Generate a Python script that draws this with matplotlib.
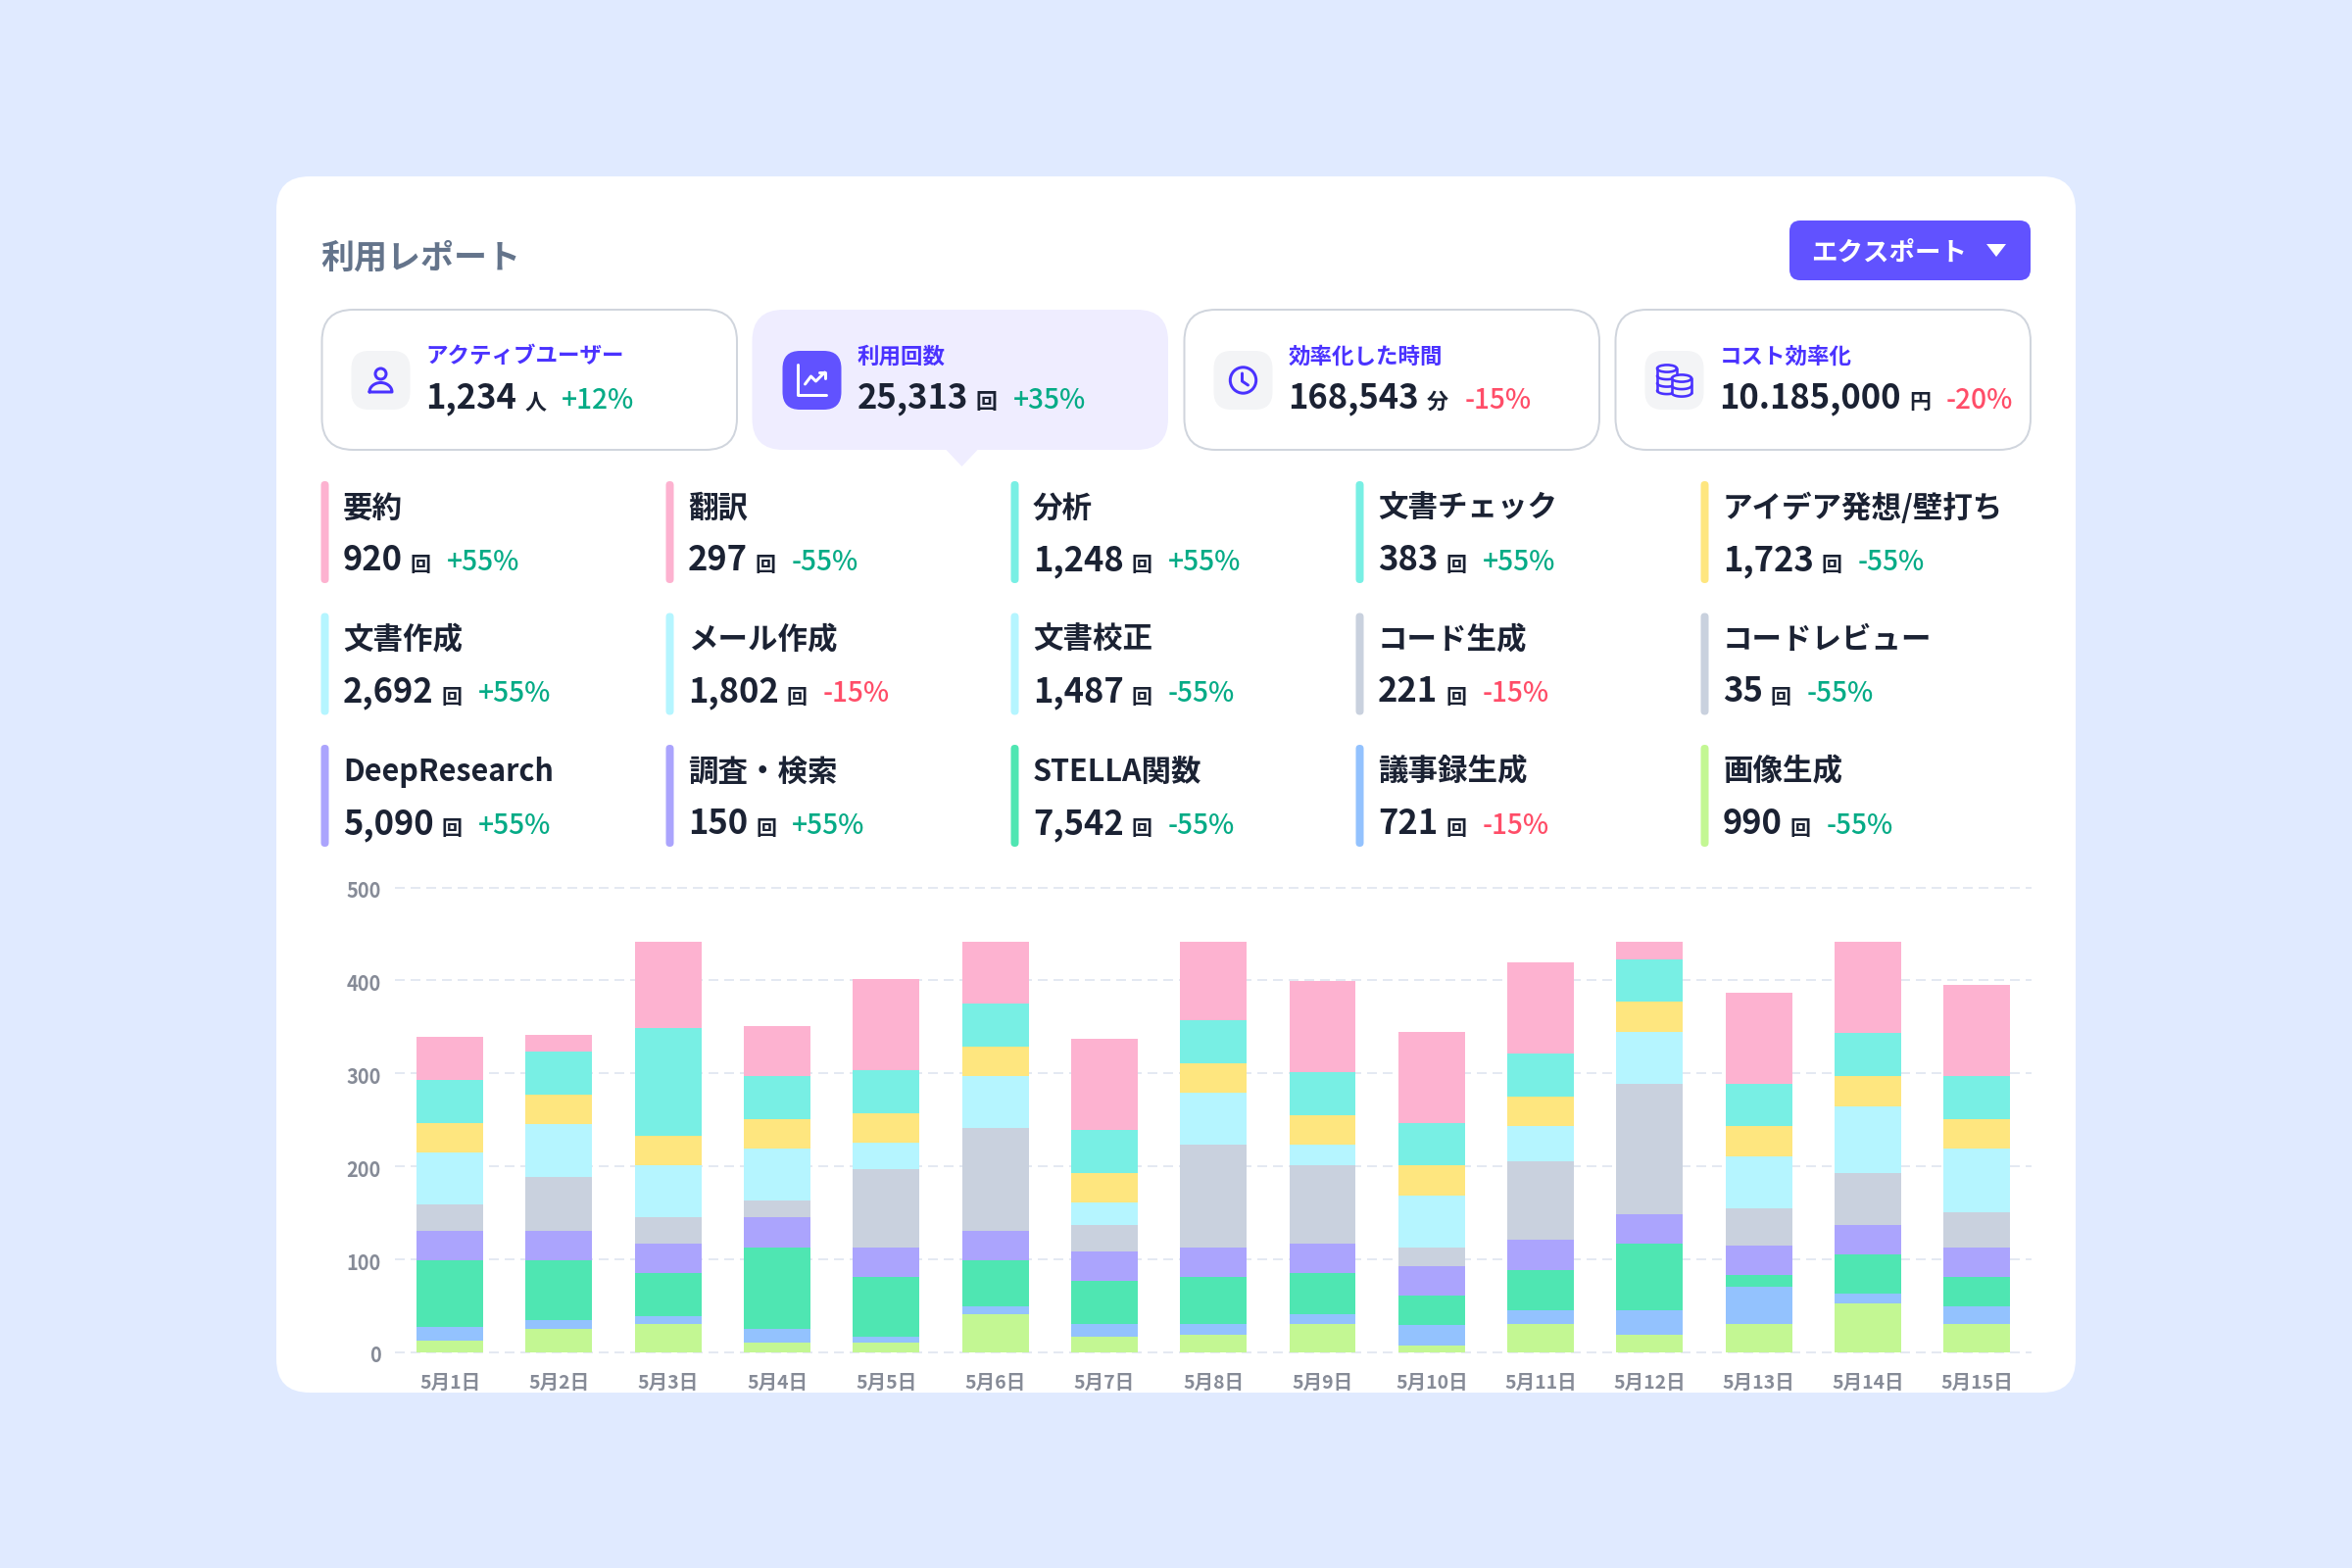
import matplotlib
matplotlib.use('Agg')
import matplotlib.pyplot as plt
import matplotlib.transforms as mtrans
import numpy as np
from matplotlib.patches import FancyBboxPatch, Polygon, Circle, Ellipse

plt.rcParams['font.family'] = ['Noto Sans CJK JP', 'DejaVu Sans']

# chart data, bottom segment first
days = ['5月%d日' % d for d in range(1, 16)]
image_gen = [13, 25, 31, 11, 11, 41, 17, 19, 31, 7, 31, 19, 31, 53, 31]
minutes = [14, 10, 8, 14, 6, 8, 14, 12, 10, 22, 14, 26, 40, 10, 18]
stella = [72, 64, 46, 88, 64, 50, 46, 50, 44, 32, 44, 72, 12, 42, 32]
research = [32, 32, 32, 32, 32, 32, 32, 32, 32, 32, 32, 32, 32, 32, 32]
code = [28, 58, 28, 18, 84, 110, 28, 110, 84, 20, 84, 140, 40, 56, 38]
docs = [56, 56, 56, 56, 28, 56, 24, 56, 22, 56, 38, 56, 56, 72, 68]
ideas = [32, 32, 32, 32, 32, 32, 32, 32, 32, 32, 32, 32, 32, 32, 32]
analysis = [46, 46, 116, 46, 46, 46, 46, 46, 46, 46, 46, 46, 46, 46, 46]
summary = [46, 18, 93, 54, 98, 67, 98, 85, 98, 98, 98, 19, 98, 98, 98]
y_ticks = [0, 100, 200, 300, 400, 500]

PINK = '#fdb2d0'
TEAL = '#78efe4'
YELLOW = '#fee67f'
CYAN = '#b5f5ff'
GRAY = '#c9d1de'
PURPLE = '#aba4fd'
GREEN = '#4fe6b2'
BLUE = '#93c2fe'
LIME = '#c3f793'
series = [image_gen, minutes, stella, research, code, docs, ideas, analysis, summary]
series_colors = [LIME, BLUE, GREEN, PURPLE, GRAY, CYAN, YELLOW, TEAL, PINK]

# summary cards
kpi_labels = ['アクティブユーザー', '利用回数', '効率化した時間', 'コスト効率化']
kpi_values = ['1,234', '25,313', '168,543', '10.185,000']
kpi_units = ['人', '回', '分', '円']
kpi_deltas = ['+12%', '+35%', '-15%', '-20%']

# feature grid, read left to right
names = ['要約', '翻訳', '分析', '文書チェック', 'アイデア発想/壁打ち',
         '文書作成', 'メール作成', '文書校正', 'コード生成', 'コードレビュー',
         'DeepResearch', '調査・検索', 'STELLA関数', '議事録生成', '画像生成']
counts = ['920', '297', '1,248', '383', '1,723',
          '2,692', '1,802', '1,487', '221', '35',
          '5,090', '150', '7,542', '721', '990']
changes = ['+55%', '-55%', '+55%', '+55%', '-55%',
           '+55%', '-15%', '-55%', '-15%', '-55%',
           '+55%', '+55%', '-55%', '-15%', '-55%']
name_colors = [PINK, PINK, TEAL, TEAL, YELLOW,
               CYAN, CYAN, CYAN, GRAY, GRAY,
               PURPLE, PURPLE, GREEN, BLUE, LIME]

BG = '#e0eaff'
ACCENT = '#6152ff'
LABEL = '#4a32ff'
INK = '#1b2233'
UP = '#05ab86'
DOWN = '#ff4d68'


def pt(px):
    return px * 0.72


fig = plt.figure(figsize=(24, 16), dpi=100, facecolor=BG)
ui = fig.add_axes([0, 0, 1, 1])
ui.set_xlim(0, 2400)
ui.set_ylim(1600, 0)
ui.axis('off')
renderer = fig.canvas.get_renderer()


def box(x0, y0, x1, y1, r, fc, ec='none', lw=0):
    ui.add_patch(FancyBboxPatch((x0, y0), x1 - x0, y1 - y0,
                                boxstyle='round,pad=0,rounding_size=%g' % r,
                                fc=fc, ec=ec, lw=pt(lw)))


def put(x, y, s, size, color, weight='medium', va='baseline'):
    # returns the x where the text ends
    t = ui.text(x, y, s, fontsize=pt(size), color=color, fontweight=weight, va=va, ha='left')
    return x + t.get_window_extent(renderer).width


def delta_color(s):
    return DOWN if s in ('-15%', '-20%') else UP


def stroke(xs, ys, color, lw, z=2):
    ui.plot(xs, ys, color=color, lw=pt(lw), solid_capstyle='round', solid_joinstyle='round', zorder=z)


def icon_person(cx, cy, c):
    ui.add_patch(Circle((cx, cy - 6.5), 5.5, fc='none', ec=c, lw=pt(3)))
    t = np.linspace(np.pi, 0, 30)
    xs = cx + 11.5 * np.cos(t)
    ys = cy + 12 - 9.5 * np.sin(t)
    stroke(np.r_[xs, xs[0]], np.r_[ys, ys[0]], c, 3)


def icon_chart(cx, cy, c):
    stroke([cx - 15, cx - 15, cx + 14], [cy - 16, cy + 15, cy + 15], c, 3)
    stroke([cx - 7, cx - 1, cx + 4, cx + 13], [cy + 4, cy - 4, cy + 1, cy - 8], c, 3)
    stroke([cx + 7, cx + 13, cx + 13], [cy - 8, cy - 8, cy - 2], c, 3)


def icon_clock(cx, cy, c):
    ui.add_patch(Circle((cx, cy), 13.2, fc='none', ec=c, lw=pt(3)))
    stroke([cx - 1, cx - 1, cx + 5], [cy - 7, cy + 1, cy + 5], c, 3)


def coin_stack(cx, top, rows, c, fc, z):
    rx, ry = 10, 3.6
    bottom = top + rows * 7.5
    t = np.linspace(np.pi, 0, 30)
    ui.fill_between([cx - rx, cx + rx], top, bottom, color=fc, lw=0, zorder=z)
    ui.add_patch(Ellipse((cx, bottom), 2 * rx, 2 * ry, fc=fc, ec='none', zorder=z))
    for i in range(1, rows + 1):
        stroke(cx + rx * np.cos(t), top + i * 7.5 + ry * np.sin(t), c, 2.6, z + 0.1)
    stroke([cx - rx, cx - rx], [top, bottom], c, 2.6, z + 0.1)
    stroke([cx + rx, cx + rx], [top, bottom], c, 2.6, z + 0.1)
    ui.add_patch(Ellipse((cx, top), 2 * rx, 2 * ry, fc=fc, ec=c, lw=pt(2.6), zorder=z + 0.2))


def icon_coins(cx, cy, c):
    coin_stack(cx - 7.5, cy - 12, 3, c, '#f3f4f6', 3)
    coin_stack(cx + 7.5, cy - 2, 2, c, '#f3f4f6', 4)


# page card and header
box(282, 180, 2118, 1421, 34, 'white')
put(327, 263, '利用レポート', 34, '#64748b', 'bold', 'center')
box(1826, 225, 2072, 286, 11, ACCENT)
put(1848, 258, 'エクスポート', 26.5, 'white', 'bold', 'center')
ui.add_patch(Polygon([(2027, 249), (2047, 249), (2037, 262)], fc='white', ec='none'))

# summary cards
icons = [icon_person, icon_chart, icon_clock, icon_coins]
for i in range(4):
    x0 = 328.5 + i * 440
    on = i == 1
    if on:
        box(x0 - 1, 316, x0 + 423.5, 459, 32, '#efedff')
        ui.add_patch(Polygon([(x0 + 197, 459), (x0 + 229, 459), (x0 + 213, 476)], fc='#efedff', ec='none'))
    else:
        box(x0, 316, x0 + 423.5, 459, 32, 'white', '#d0d5dd', 2)
    box(x0 + 30, 358, x0 + 90, 418, 18, ACCENT if on else '#f3f4f6')
    icons[i](x0 + 60, 388, 'white' if on else LABEL)
    put(x0 + 106, 364, kpi_labels[i], 22.5, LABEL, 'bold', 'center')
    x = put(x0 + 106, 416, kpi_values[i], 34.5, INK, 'bold')
    x = put(x + 8, 417, kpi_units[i], 22, INK, 'bold')
    put(x + 16, 417, kpi_deltas[i], 28, delta_color(kpi_deltas[i]), 'medium')

# feature grid
for i, name in enumerate(names):
    row, col = divmod(i, 5)
    x0 = 327.5 + col * 352
    y0 = 491 + row * 134.5
    box(x0, y0, x0 + 8, y0 + 104, 4, name_colors[i])
    put(x0 + 22.5, y0 + 27.5, name, 30.5, INK, 'bold', 'center')
    x = put(x0 + 22.5, y0 + 91, counts[i], 34.5, INK, 'bold')
    x = put(x + 8, y0 + 92, '回', 21, INK, 'bold')
    put(x + 16, y0 + 91, changes[i], 28, delta_color(changes[i]), 'medium')

# stacked bars
ax = fig.add_axes([403.4 / 2400, 1 - 1380 / 1600, 1669.6 / 2400, 474.5 / 1600])
ax.patch.set_alpha(0)
pos = np.arange(len(days))
bottom = np.zeros(len(days))
for vals, col in zip(series, series_colors):
    ax.bar(pos, vals, 0.61, bottom=bottom, color=col, linewidth=0, zorder=3)
    bottom = bottom + np.array(vals)

ax.set_xlim(-0.5, 14.5)
ax.set_ylim(0, 500)
ax.set_xticks(pos)
ax.set_xticklabels(days, fontweight='bold')
ax.set_yticks(y_ticks)
ax.grid(axis='y', color='#e4e9f2', lw=pt(2), linestyle=(0, (5, 3)), clip_on=False)
ax.set_axisbelow(True)
for s in ax.spines.values():
    s.set_visible(False)
ax.tick_params(axis='x', length=0, pad=pt(22), labelsize=pt(19.5), labelcolor='#868b97')
ax.tick_params(axis='y', length=0, pad=pt(15), labelsize=pt(20), labelcolor='#868b97')
down = mtrans.ScaledTranslation(0, -2 / 100, fig.dpi_scale_trans)
for lab in ax.get_yticklabels():
    lab.set_fontweight('bold')
    lab.set_transform(lab.get_transform() + down)

fig.savefig('out.png', dpi=100, facecolor=BG)
